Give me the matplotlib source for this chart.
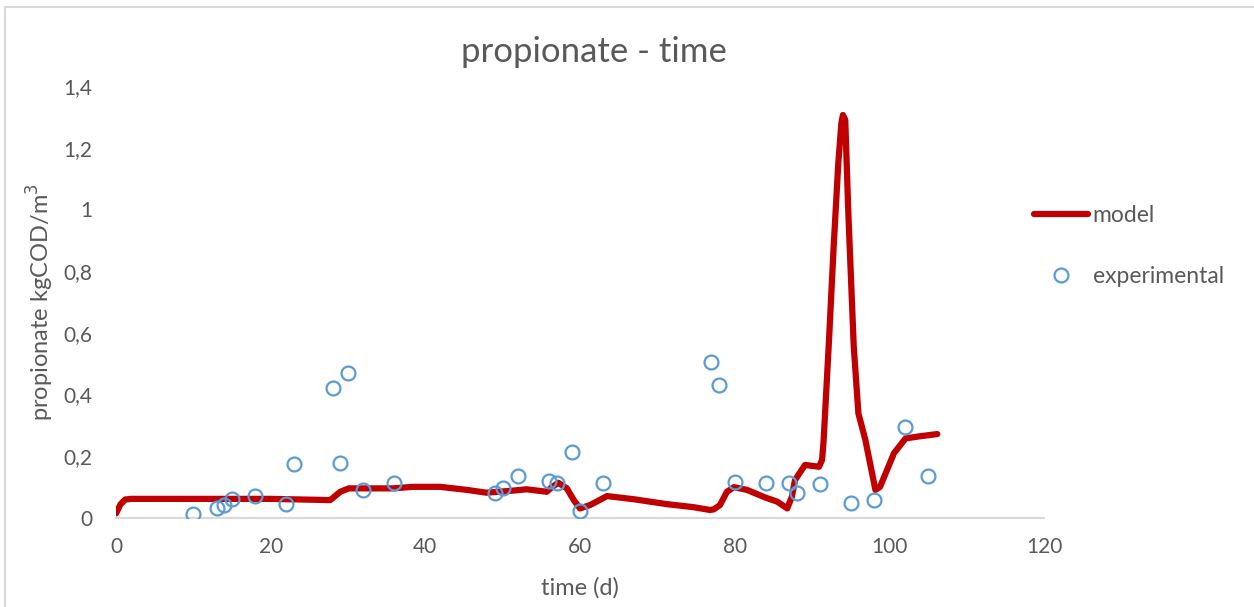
import matplotlib
matplotlib.use("Agg")
import matplotlib.pyplot as plt
from matplotlib.lines import Line2D

plt.rcParams['font.family'] = ['Lato', 'DejaVu Sans']

# --- model curve ---
model_t = [0, 0.6, 1.2, 2, 10, 20, 27.7, 29, 30.1, 35.8, 38.4, 41.9, 45.4, 47.9,
           51, 53.1, 55.7, 56.4, 57.2, 58.3, 59.2, 60, 61.3, 63.5, 66.9, 71.2,
           74.7, 76.8, 77.3, 78.1, 79, 79.9, 81.6, 84, 85.5, 86.8, 87.4, 87.8,
           89.1, 90.9, 91.3, 91.5, 92.2, 92.8, 93.4, 93.8, 94.0, 94.3, 94.7,
           95.4, 96.0, 96.9, 98.2, 98.8, 100.6, 102.1, 104, 106.2]
model_c = [0.015, 0.045, 0.06, 0.062, 0.062, 0.062, 0.058, 0.085, 0.096, 0.096,
           0.101, 0.101, 0.091, 0.082, 0.088, 0.093, 0.085, 0.101, 0.114, 0.096,
           0.058, 0.031, 0.042, 0.071, 0.061, 0.045, 0.035, 0.026, 0.028, 0.042,
           0.085, 0.1, 0.091, 0.066, 0.053, 0.031, 0.069, 0.123, 0.172, 0.166,
           0.188, 0.25, 0.577, 0.879, 1.15, 1.28, 1.306, 1.29, 0.987, 0.555,
           0.339, 0.253, 0.091, 0.101, 0.21, 0.258, 0.265, 0.272]

# --- experimental points ---
exp_t = [10, 13, 14, 15, 18, 22, 23, 28, 29, 30, 32, 36, 49, 50, 52, 56, 57,
         59, 60, 63, 77, 78, 80, 84, 87, 88, 91, 95, 98, 102, 105]
exp_c = [0.013, 0.034, 0.042, 0.06, 0.071, 0.045, 0.175, 0.421, 0.178, 0.47,
         0.091, 0.113, 0.082, 0.096, 0.137, 0.119, 0.112, 0.214, 0.023, 0.114,
         0.505, 0.431, 0.117, 0.112, 0.112, 0.081, 0.109, 0.048, 0.057, 0.294,
         0.136]

xticks = [0, 20, 40, 60, 80, 100, 120]
yticks = [0, 0.2, 0.4, 0.6, 0.8, 1.0, 1.2, 1.4]
ytick_labels = ["0", "0,2", "0,4", "0,6", "0,8", "1", "1,2", "1,4"]

txt = "#595959"
W, H = 1254, 607
fig = plt.figure(figsize=(W / 100, H / 100), dpi=100)
ax = fig.add_axes([116 / W, 1 - 518 / H, (1044 - 116) / W, (518 - 86) / H])

ax.plot(model_t, model_c, color="#C00000", lw=4.5, solid_joinstyle="round",
        solid_capstyle="round", label="model", zorder=2)
ax.plot(exp_t, exp_c, ls="none", marker="o", ms=10, mfc="none", mec="#5B9BD5",
        mew=1.6, label="experimental", zorder=3)

ax.set_xlim(0, 120)
ax.set_ylim(0, 1.4)
ax.set_xticks(xticks)
ax.set_xticklabels([str(v) for v in xticks])
ax.set_yticks(yticks)
ax.set_yticklabels(ytick_labels)
ax.tick_params(length=0, labelsize=15, labelcolor=txt)
ax.tick_params(axis="y", pad=17)
ax.tick_params(axis="x", pad=14)
for s in ["top", "right", "left"]:
    ax.spines[s].set_visible(False)
ax.spines["bottom"].set_color("#D9D9D9")
ax.spines["bottom"].set_linewidth(1.5)

ax.set_xlabel("time (d)", fontsize=17, color=txt, labelpad=14)
ax.set_ylabel("propionate kgCOD/m$^3$", fontsize=17, color=txt, labelpad=5)
fig.text(594 / W, 1 - 52 / H, "propionate - time", fontsize=25, color=txt,
         ha="center", va="center")

leg = ax.legend(loc="center left", bbox_to_anchor=(1034 / W, 1 - 246 / H),
                bbox_transform=fig.transFigure, frameon=False, fontsize=16.5,
                borderpad=0, borderaxespad=0, handlelength=2.36,
                handletextpad=0.2, labelspacing=1.75)
for t in leg.get_texts():
    t.set_color(txt)

# chart area border (only left/top visible)
fig.add_artist(Line2D([4.5 / W, 4.5 / W], [0, 1 - 7 / H], color="#D9D9D9", lw=1.5))
fig.add_artist(Line2D([4.5 / W, 1], [1 - 7 / H, 1 - 7 / H], color="#D9D9D9", lw=1.5))

fig.savefig("out.png", dpi=100)
